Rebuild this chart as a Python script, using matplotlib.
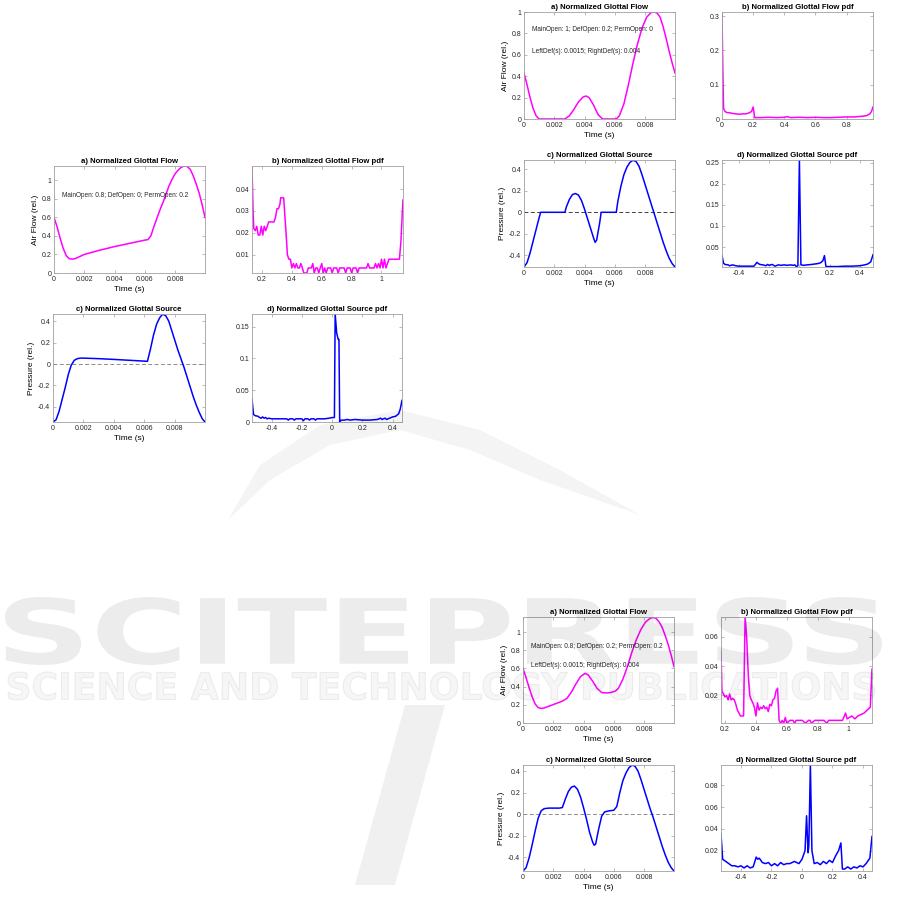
import matplotlib
matplotlib.use("Agg")
from matplotlib import pyplot as plt
from matplotlib.textpath import TextPath
from matplotlib.patches import PathPatch, Polygon
from matplotlib.font_manager import FontProperties
from matplotlib.transforms import Affine2D

plt.rcParams['font.family'] = ['Liberation Sans', 'DejaVu Sans']

W, H = 901, 897

# ---------------- group 1 (top left) ----------------
g1_flow_t = [0, 0.0002, 0.0004, 0.0006, 0.0008, 0.001, 0.0012, 0.0014, 0.002, 0.003, 0.004, 0.005, 0.006,
             0.0062, 0.0064, 0.0066, 0.0068, 0.007, 0.0072, 0.0074, 0.0076, 0.0078, 0.008, 0.0082, 0.0084,
             0.0086, 0.0088, 0.009, 0.0092, 0.0094, 0.0096, 0.0098, 0.00998]
g1_flow = [0.60, 0.50, 0.38, 0.27, 0.19, 0.155, 0.15, 0.155, 0.20, 0.245, 0.285, 0.32, 0.355,
           0.36, 0.40, 0.50, 0.59, 0.68, 0.76, 0.85, 0.94, 1.01, 1.07, 1.11, 1.14,
           1.155, 1.15, 1.12, 1.05, 0.96, 0.86, 0.73, 0.60]

g1_fpdf_x = [0.133, 0.14, 0.145, 0.155, 0.165, 0.175, 0.185, 0.195, 0.205, 0.215, 0.225, 0.235, 0.245, 0.26,
             0.28, 0.29, 0.30, 0.31, 0.32, 0.325, 0.345, 0.36, 0.37, 0.38, 0.39, 0.40, 0.41, 0.42, 0.43,
             0.44, 0.45, 0.46, 0.47, 0.48, 0.50, 0.51, 0.53, 0.54, 0.55, 0.56, 0.57, 0.58, 0.59, 0.60,
             0.61, 0.62, 0.63, 0.64, 0.66, 0.67, 0.68, 0.70, 0.71, 0.72, 0.75, 0.76, 0.77, 0.79, 0.80,
             0.81, 0.83, 0.84, 0.85, 0.90, 0.91, 0.92, 0.95, 0.96, 0.97, 0.98, 0.99, 1.00, 1.01, 1.02,
             1.03, 1.04, 1.05, 1.06, 1.10, 1.12, 1.13, 1.14, 1.144]
g1_fpdf = [0.050, 0.030, 0.022, 0.021, 0.023, 0.019, 0.019, 0.023, 0.019, 0.023, 0.021, 0.023, 0.025, 0.025,
           0.025, 0.027, 0.031, 0.031, 0.033, 0.036, 0.036, 0.021, 0.010, 0.008, 0.008, 0.004, 0.006, 0.004,
           0.006, 0.004, 0.004, 0.006, 0.004, 0.0017, 0.0017, 0.004, 0.004, 0.006, 0.0017, 0.004, 0.004,
           0.0017, 0.004, 0.006, 0.0017, 0.004, 0.0017, 0.004, 0.004, 0.0017, 0.004, 0.004, 0.0017, 0.004,
           0.004, 0.0017, 0.004, 0.004, 0.0017, 0.004, 0.004, 0.0017, 0.004, 0.004, 0.006, 0.004, 0.004,
           0.006, 0.004, 0.006, 0.004, 0.008, 0.004, 0.008, 0.004, 0.006, 0.008, 0.008, 0.008, 0.008,
           0.016, 0.030, 0.035]

g1_src_t = [0, 0.0002, 0.0004, 0.0006, 0.0008, 0.001, 0.0012, 0.0014, 0.0016, 0.0018, 0.002, 0.003, 0.004,
            0.005, 0.006, 0.0062, 0.0064, 0.0066, 0.0068, 0.007, 0.0072, 0.0074, 0.0076, 0.0078, 0.008,
            0.0082, 0.0084, 0.0086, 0.0088, 0.009, 0.0092, 0.0094, 0.0096, 0.0098, 0.00998]
g1_src = [-0.54, -0.52, -0.44, -0.33, -0.22, -0.10, -0.01, 0.035, 0.05, 0.055, 0.055, 0.05, 0.043,
          0.035, 0.027, 0.025, 0.14, 0.27, 0.37, 0.43, 0.465, 0.45, 0.40, 0.31, 0.22,
          0.13, 0.05, -0.03, -0.12, -0.21, -0.30, -0.38, -0.45, -0.51, -0.54]

g1_spdf_x = [-0.53, -0.52, -0.51, -0.49, -0.48, -0.47, -0.46, -0.45, -0.44, -0.43, -0.42, -0.40, -0.35,
             -0.30, -0.29, -0.28, -0.26, -0.25, -0.24, -0.20, -0.19, -0.18, -0.16, -0.15, -0.14, -0.12,
             -0.11, -0.10, -0.05, -0.02, 0.0, 0.015, 0.02, 0.03, 0.04, 0.045, 0.05, 0.06, 0.08, 0.10,
             0.12, 0.15, 0.20, 0.25, 0.30, 0.32, 0.33, 0.35, 0.36, 0.38, 0.40, 0.42, 0.44, 0.45, 0.462]
g1_spdf = [0.036, 0.012, 0.010, 0.009, 0.007, 0.006, 0.008, 0.006, 0.007, 0.005, 0.006, 0.005, 0.005,
           0.005, 0.003, 0.005, 0.005, 0.003, 0.005, 0.005, 0.002, 0.005, 0.005, 0.003, 0.005, 0.005,
           0.003, 0.005, 0.005, 0.006, 0.007, 0.007, 0.170, 0.140, 0.130, 0.130, 0.0, 0.003, 0.003, 0.004,
           0.003, 0.004, 0.003, 0.003, 0.004, 0.006, 0.004, 0.006, 0.004, 0.006, 0.008, 0.009, 0.013,
           0.020, 0.034]

# ---------------- group 2 (top right) ----------------
g2_flow_t = [0, 0.0002, 0.0004, 0.0006, 0.0008, 0.001, 0.0027, 0.003, 0.0033, 0.0036, 0.0039, 0.0041,
             0.0043, 0.0046, 0.0049, 0.0052, 0.0061, 0.0063, 0.0066, 0.0069, 0.0072, 0.0075, 0.0078,
             0.0081, 0.0084, 0.0086, 0.0088, 0.009, 0.0092, 0.0094, 0.0096, 0.0098, 0.00998]
g2_flow = [0.43, 0.32, 0.20, 0.10, 0.03, 0.0, 0.0, 0.03, 0.09, 0.16, 0.205, 0.215,
           0.20, 0.13, 0.04, 0.0, 0.0, 0.03, 0.14, 0.32, 0.52, 0.70, 0.85,
           0.95, 0.995, 1.0, 0.99, 0.95, 0.86, 0.75, 0.63, 0.52, 0.43]

g2_fpdf_x = [0, 0.005, 0.01, 0.02, 0.03, 0.05, 0.07, 0.09, 0.11, 0.13, 0.15, 0.17, 0.19, 0.20, 0.21,
             0.25, 0.30, 0.35, 0.40, 0.42, 0.44, 0.50, 0.55, 0.60, 0.65, 0.70, 0.75, 0.80, 0.85, 0.90,
             0.93, 0.95, 0.96, 0.97]
g2_fpdf = [0.31, 0.15, 0.03, 0.022, 0.019, 0.018, 0.016, 0.015, 0.014, 0.015, 0.015, 0.017, 0.022, 0.035,
           0.004, 0.004, 0.005, 0.004, 0.005, 0.007, 0.004, 0.005, 0.004, 0.005, 0.004, 0.004, 0.005,
           0.006, 0.006, 0.008, 0.010, 0.015, 0.022, 0.035]

g2_src_t = [0, 0.0002, 0.0004, 0.0006, 0.0008, 0.001, 0.0011, 0.0027, 0.0028, 0.003, 0.0032, 0.0034,
            0.0036, 0.0038, 0.004, 0.0042, 0.0044, 0.0046, 0.0047, 0.0048, 0.005, 0.0051, 0.0061,
            0.0062, 0.0064, 0.0066, 0.0068, 0.007, 0.0072, 0.0074, 0.0076, 0.0078, 0.008, 0.0082,
            0.0084, 0.0086, 0.0088, 0.009, 0.0092, 0.0094, 0.0096, 0.0098, 0.00998]
g2_src = [-0.51, -0.47, -0.38, -0.27, -0.16, -0.05, 0.0, 0.0, 0.05, 0.12, 0.165, 0.175,
          0.16, 0.11, 0.03, -0.06, -0.15, -0.24, -0.28, -0.26, -0.10, 0.0, 0.0,
          0.10, 0.24, 0.35, 0.42, 0.465, 0.485, 0.475, 0.43, 0.35, 0.26, 0.17,
          0.08, -0.01, -0.10, -0.19, -0.28, -0.36, -0.43, -0.48, -0.51]

g2_spdf_x = [-0.51, -0.50, -0.49, -0.47, -0.46, -0.44, -0.42, -0.40, -0.35, -0.30, -0.29, -0.28, -0.27,
             -0.26, -0.24, -0.22, -0.21, -0.20, -0.18, -0.16, -0.14, -0.12, -0.10, -0.08, -0.06, -0.04,
             -0.03, -0.02, -0.01, 0.0, 0.01, 0.03, 0.05, 0.08, 0.10, 0.12, 0.14, 0.155, 0.165, 0.175,
             0.20, 0.25, 0.30, 0.35, 0.40, 0.43, 0.45, 0.47, 0.485]
g2_spdf = [0.030, 0.012, 0.009, 0.008, 0.006, 0.008, 0.006, 0.005, 0.005, 0.005, 0.009, 0.014, 0.011,
           0.009, 0.008, 0.006, 0.009, 0.007, 0.009, 0.005, 0.008, 0.007, 0.008, 0.007, 0.008, 0.007,
           0.008, 0.004, 0.006, 0.256, 0.008, 0.007, 0.008, 0.009, 0.010, 0.011, 0.013, 0.018, 0.030,
           0.004, 0.004, 0.004, 0.005, 0.005, 0.006, 0.008, 0.010, 0.015, 0.032]

# ---------------- group 3 (bottom right) ----------------
g3_flow_t = [0, 0.0002, 0.0004, 0.0006, 0.0008, 0.001, 0.0012, 0.0014, 0.0018, 0.0022, 0.0026, 0.0029,
             0.0032, 0.0035, 0.0038, 0.0041, 0.0043, 0.0046, 0.0049, 0.0052, 0.0055, 0.0058, 0.0061,
             0.0063, 0.0066, 0.0069, 0.0072, 0.0075, 0.0078, 0.0081, 0.0084, 0.0086, 0.0088, 0.009,
             0.0092, 0.0094, 0.0096, 0.0098, 0.00998]
g3_flow = [0.60, 0.50, 0.39, 0.29, 0.21, 0.17, 0.16, 0.165, 0.19, 0.215, 0.24, 0.27,
           0.34, 0.43, 0.51, 0.545, 0.53, 0.46, 0.38, 0.335, 0.33, 0.335, 0.35,
           0.38, 0.48, 0.62, 0.78, 0.92, 1.03, 1.11, 1.15, 1.16, 1.15, 1.11,
           1.05, 0.96, 0.86, 0.74, 0.62]

g3_fpdf_x = [0.174, 0.18, 0.19, 0.20, 0.21, 0.22, 0.23, 0.24, 0.25, 0.26, 0.27, 0.28, 0.29, 0.30, 0.32,
             0.33, 0.34, 0.35, 0.36, 0.37, 0.38, 0.39, 0.40, 0.41, 0.42, 0.43, 0.44, 0.45, 0.46, 0.47,
             0.48, 0.49, 0.50, 0.51, 0.52, 0.53, 0.54, 0.55, 0.56, 0.57, 0.58, 0.59, 0.60, 0.62, 0.64,
             0.65, 0.66, 0.68, 0.70, 0.72, 0.74, 0.75, 0.76, 0.78, 0.80, 0.82, 0.84, 0.86, 0.87, 0.88,
             0.90, 0.96, 0.98, 0.99, 1.02, 1.04, 1.06, 1.10, 1.12, 1.14, 1.151]
g3_fpdf = [0.050, 0.023, 0.021, 0.019, 0.020, 0.017, 0.021, 0.017, 0.018, 0.017, 0.014, 0.010, 0.008,
           0.006, 0.006, 0.074, 0.060, 0.035, 0.020, 0.017, 0.015, 0.012, 0.006, 0.015, 0.010, 0.012,
           0.011, 0.013, 0.011, 0.012, 0.009, 0.014, 0.013, 0.017, 0.018, 0.023, 0.025, 0.003, 0.001,
           0.003, 0.001, 0.005, 0.001, 0.003, 0.003, 0.001, 0.003, 0.003, 0.003, 0.001, 0.003, 0.003,
           0.001, 0.003, 0.003, 0.003, 0.003, 0.001, 0.003, 0.003, 0.003, 0.003, 0.008, 0.004, 0.006,
           0.004, 0.006, 0.008, 0.010, 0.012, 0.038]

g3_src_t = [0, 0.0002, 0.0004, 0.0006, 0.0008, 0.001, 0.0012, 0.0014, 0.0017, 0.002, 0.0024, 0.0026,
            0.0028, 0.003, 0.0032, 0.0034, 0.0036, 0.0038, 0.004, 0.0042, 0.0044, 0.0046, 0.0047,
            0.0048, 0.005, 0.0052, 0.0054, 0.0057, 0.006, 0.0062, 0.0064, 0.0066, 0.0068, 0.007,
            0.0072, 0.0074, 0.0076, 0.0078, 0.008, 0.0082, 0.0084, 0.0086, 0.0088, 0.009, 0.0092,
            0.0094, 0.0096, 0.0098, 0.00998]
g3_src = [-0.53, -0.50, -0.41, -0.29, -0.16, -0.04, 0.03, 0.05, 0.055, 0.055, 0.055, 0.06,
          0.14, 0.21, 0.25, 0.26, 0.23, 0.16, 0.06, -0.05, -0.17, -0.26, -0.29,
          -0.28, -0.14, -0.02, 0.02, 0.03, 0.035, 0.07, 0.20, 0.31, 0.38, 0.43,
          0.455, 0.445, 0.40, 0.32, 0.23, 0.14, 0.05, -0.03, -0.12, -0.21, -0.30,
          -0.38, -0.45, -0.50, -0.53]

g3_spdf_x = [-0.531, -0.52, -0.50, -0.48, -0.46, -0.44, -0.42, -0.40, -0.38, -0.36, -0.34, -0.32,
             -0.30, -0.29, -0.28, -0.26, -0.24, -0.22, -0.20, -0.18, -0.16, -0.14, -0.12, -0.10, -0.08,
             -0.05, -0.02, 0.0, 0.01, 0.02, 0.03, 0.04, 0.045, 0.055, 0.065, 0.08, 0.10, 0.12, 0.14,
             0.16, 0.18, 0.20, 0.22, 0.24, 0.255, 0.265, 0.28, 0.30, 0.32, 0.34, 0.36, 0.38, 0.40, 0.42,
             0.43, 0.445, 0.459]
g3_spdf = [0.035, 0.012, 0.010, 0.008, 0.006, 0.006, 0.005, 0.006, 0.004, 0.006, 0.004, 0.005,
           0.014, 0.012, 0.013, 0.009, 0.008, 0.009, 0.006, 0.008, 0.006, 0.009, 0.007, 0.008, 0.008,
           0.010, 0.008, 0.012, 0.016, 0.020, 0.052, 0.018, 0.025, 0.099, 0.020, 0.008, 0.009, 0.007,
           0.010, 0.008, 0.011, 0.009, 0.015, 0.020, 0.027, 0.003, 0.003, 0.005, 0.003, 0.005, 0.004,
           0.006, 0.005, 0.008, 0.010, 0.013, 0.033]

t_ticks = [0, 0.002, 0.004, 0.006, 0.008]
FLOW_C = '#ff00ff'
SRC_C = '#0000ff'


def make_ax(fig, box):
    l, t, r, b = box
    ax = fig.add_axes([l / W, 1 - b / H, (r - l) / W, (b - t) / H])
    for s in ax.spines.values():
        s.set_color('#a0a0a0')
        s.set_linewidth(0.6)
    ax.tick_params(direction='in', length=2, width=0.5, color='#a0a0a0', labelsize=5,
                   labelcolor='#262626', pad=2, top=True, right=True)
    return ax


def set_ticks(ax, xt, yt):
    ax.set_xticks(xt)
    ax.set_xticklabels([f'{v:g}' for v in xt])
    ax.set_yticks(yt)
    ax.set_yticklabels([f'{v:g}' for v in yt])


def title(ax, s):
    ax.set_title(s, fontsize=5.6, fontweight='bold', pad=2)


def group(fig, boxes, flow_t, flow, fylim, fyt, fpdf_x, fpdf, pxlim, pylim, pxt, pyt,
          src_t, src, sylim, spdf_x, spdf, sxlim, sdylim, sdyt, notes, dash_c):
    ax = make_ax(fig, boxes[0])
    ax.plot(flow_t, flow, color=FLOW_C, lw=1.1)
    ax.set_xlim(0, 0.00998)
    ax.set_ylim(*fylim)
    set_ticks(ax, t_ticks, fyt)
    ax.set_xlabel('Time (s)', fontsize=6, labelpad=2)
    ax.set_ylabel('Air Flow (rel.)', fontsize=6, labelpad=2)
    title(ax, 'a) Normalized Glottal Flow')
    for txt, yv in notes:
        ax.text(0.0005, yv, txt, fontsize=4.7, color='#262626', va='center')

    ax = make_ax(fig, boxes[1])
    ax.plot(fpdf_x, fpdf, color=FLOW_C, lw=1.1)
    ax.set_xlim(*pxlim)
    ax.set_ylim(*pylim)
    set_ticks(ax, pxt, pyt)
    title(ax, 'b) Normalized Glottal Flow pdf')

    ax = make_ax(fig, boxes[2])
    ax.axhline(0, color=dash_c, lw=0.7, ls=(0, (4, 2.5)))
    ax.plot(src_t, src, color=SRC_C, lw=1.1)
    ax.set_xlim(0, 0.00998)
    ax.set_ylim(*sylim)
    set_ticks(ax, t_ticks, [-0.4, -0.2, 0, 0.2, 0.4])
    ax.set_xlabel('Time (s)', fontsize=6, labelpad=2)
    ax.set_ylabel('Pressure (rel.)', fontsize=6, labelpad=2)
    title(ax, 'c) Normalized Glottal Source')

    ax = make_ax(fig, boxes[3])
    ax.plot(spdf_x, spdf, color=SRC_C, lw=1.1)
    ax.set_xlim(*sxlim)
    ax.set_ylim(*sdylim)
    set_ticks(ax, [-0.4, -0.2, 0, 0.2, 0.4], sdyt)
    title(ax, 'd) Normalized Glottal Source pdf')


fig = plt.figure(figsize=(W / 100, H / 100), dpi=100)

group(fig, [(54, 166, 205, 273), (252, 166, 403, 273), (53, 314, 205, 422), (252, 314, 402, 422)],
      g1_flow_t, g1_flow, (0, 1.155), [0, 0.2, 0.4, 0.6, 0.8, 1],
      g1_fpdf_x, g1_fpdf, (0.133, 1.144), (0.0017, 0.0505), [0.2, 0.4, 0.6, 0.8, 1], [0.01, 0.02, 0.03, 0.04],
      g1_src_t, g1_src, (-0.54, 0.466),
      g1_spdf_x, g1_spdf, (-0.53, 0.462), (0, 0.17), [0, 0.05, 0.1, 0.15],
      [('MainOpen: 0.8; DefOpen: 0; PermOpen: 0.2', 0.84)], '#8c8c8c')

group(fig, [(524, 12, 675, 119), (722, 12, 873, 119), (524, 160, 675, 267), (722, 160, 873, 267)],
      g2_flow_t, g2_flow, (0, 1.0), [0, 0.2, 0.4, 0.6, 0.8, 1],
      g2_fpdf_x, g2_fpdf, (0, 0.97), (0, 0.312), [0, 0.2, 0.4, 0.6, 0.8], [0, 0.1, 0.2, 0.3],
      g2_src_t, g2_src, (-0.51, 0.4875),
      g2_spdf_x, g2_spdf, (-0.51, 0.485), (0.003, 0.256), [0.05, 0.1, 0.15, 0.2, 0.25],
      [('MainOpen: 1; DefOpen: 0.2; PermOpen: 0', 0.84),
       ('LeftDef(s): 0.0015; RightDef(s): 0.004', 0.63)], '#404040')

group(fig, [(523, 617, 674, 723), (721, 617, 872, 723), (523, 765, 674, 871), (721, 765, 872, 871)],
      g3_flow_t, g3_flow, (0, 1.165), [0, 0.2, 0.4, 0.6, 0.8, 1],
      g3_fpdf_x, g3_fpdf, (0.174, 1.151), (0.0012, 0.0736), [0.2, 0.4, 0.6, 0.8, 1], [0.02, 0.04, 0.06],
      g3_src_t, g3_src, (-0.53, 0.456),
      g3_spdf_x, g3_spdf, (-0.531, 0.459), (0.0012, 0.0987), [0.02, 0.04, 0.06, 0.08],
      [('MainOpen: 0.8; DefOpen: 0.2; PermOpen: 0.2', 0.84),
       ('LeftDef(s): 0.0015; RightDef(s): 0.004', 0.63)], '#8c8c8c')


# watermark, drawn in figure pixels (y measured from the top)
def fit_text(s, box, weight, alpha, outline=False):
    l, t, r, b = box
    tp = TextPath((0, 0), s, size=100, prop=FontProperties(family='DejaVu Sans', weight=weight))
    ext = tp.get_extents()
    tr = (Affine2D().translate(-ext.x0, -ext.y0)
          .scale((r - l) / ext.width, (b - t) / ext.height)
          .translate(l, H - b))
    if outline:
        patch = PathPatch(tr.transform_path(tp), transform=None, fc='none', ec='black',
                          lw=0.8, alpha=alpha, zorder=10)
    else:
        patch = PathPatch(tr.transform_path(tp), transform=None, fc='black', ec='none',
                          alpha=alpha, zorder=10)
    fig.patches.append(patch)


fit_text('SCITEPRESS', (5, 597, 882, 665), 'bold', 0.075)
fit_text('SCIENCE AND TECHNOLOGY PUBLICATIONS', (8, 672, 875, 700), 'bold', 0.035)
fit_text('SCIENCE AND TECHNOLOGY PUBLICATIONS', (8, 672, 875, 700), 'bold', 0.06, outline=True)

swoosh = [(228, 520), (270, 480), (330, 445), (400, 430), (470, 450), (540, 480), (640, 515),
          (560, 470), (480, 430), (400, 410), (320, 425), (260, 465)]
stroke = [(405, 705), (445, 705), (395, 885), (355, 885)]
for pts, a in [(swoosh, 0.045), (stroke, 0.06)]:
    fig.patches.append(Polygon([(x, H - y) for x, y in pts], closed=True, transform=None,
                               fc='black', ec='none', alpha=a, zorder=10))

fig.savefig('out.png', dpi=100)
